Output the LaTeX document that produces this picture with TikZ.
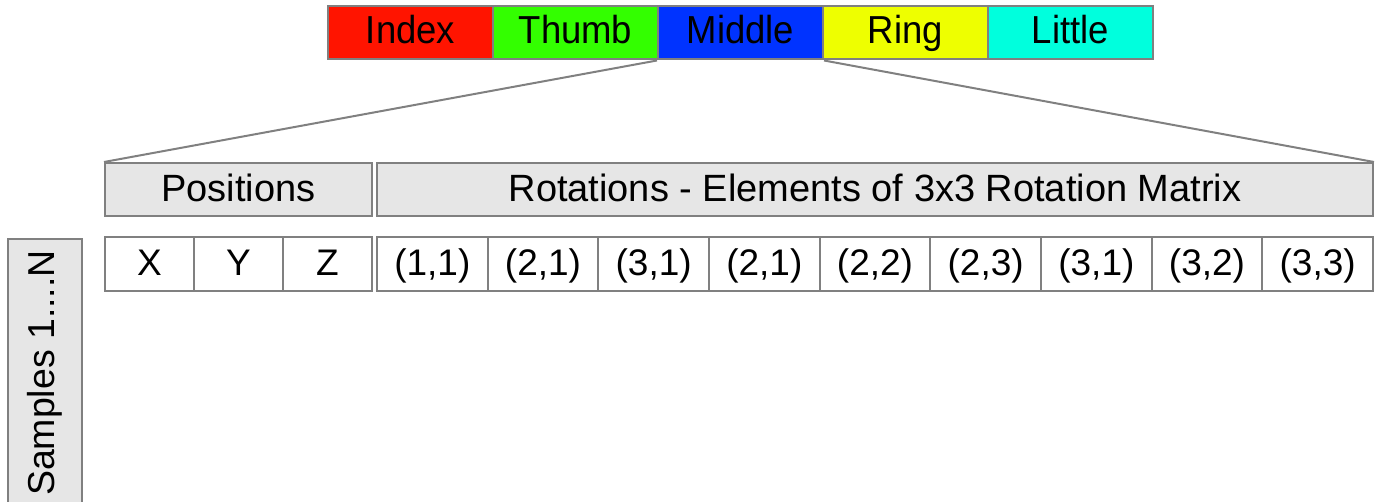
\documentclass[tikz,border=0pt]{standalone}
\usepackage{fontspec}
\setmainfont{Liberation Sans}
\definecolor{edge}{RGB}{128,128,128}
\definecolor{hdr}{RGB}{230,230,230}
\definecolor{cIndex}{RGB}{255,20,0}
\definecolor{cThumb}{RGB}{51,255,0}
\definecolor{cMiddle}{RGB}{0,51,255}
\definecolor{cRing}{RGB}{238,255,0}
\definecolor{cLittle}{RGB}{0,255,221}
\newcommand{\tallish}[1]{\scalebox{1}[1.07]{#1}}
\begin{document}
\begin{tikzpicture}[x=1pt,y=-1pt,
  box/.style={draw=edge,line width=2pt,inner sep=0pt,minimum height=53pt,
    text height=30pt,text depth=6pt,
    font=\fontsize{38}{42}\selectfont},
  cell/.style={box,minimum height=54pt,font=\fontsize{37}{40}\selectfont},
  finger/.style={box,minimum width=165pt,text height=29pt,text depth=7pt,
    font=\fontsize{36.5}{40}\selectfont},
  link/.style={draw=edge,line width=2pt}]
\useasboundingbox (0,0) rectangle (1379,502);

% finger bar
\foreach \name/\col [count=\i from 0] in {Index/cIndex,Thumb/cThumb,Middle/cMiddle,Ring/cRing,Little/cLittle}
  \node[finger,fill=\col] (f\name) at ({410.5+165*\i},33) {\tallish{\name}};

% header boxes
\node[box,fill=hdr,minimum width=267pt] (pos) at (238.5,189.5) {Positions};
\node[box,fill=hdr,minimum width=996pt] (rot) at (875,189.5) {Rotations - Elements of 3x3 Rotation Matrix};

% expansion lines from the middle finger
\draw[link] (fMiddle.south west) -- (pos.north west);
\draw[link] (fMiddle.south east) -- (rot.north east);

% position cells
\foreach \t [count=\i from 0] in {X,Y,Z}
  \node[cell,minimum width=89pt] (p\i) at ({149.5+89*\i},264) {\t};

% rotation cells
\foreach \t [count=\i from 0] in {{(1,1)},{(2,1)},{(3,1)},{(2,1)},{(2,2)},{(2,3)},{(3,1)},{(3,2)},{(3,3)}}
  \node[cell,minimum width=110.67pt] (r\i) at ({432.33+110.67*\i},264) {\t};

% samples axis
\node[box,fill=hdr,rotate=90,minimum width=268pt,minimum height=74pt,
  text height=27pt,text depth=8pt,font=\fontsize{37.5}{40}\selectfont] (samples) at (45,373) {Samples 1....N};
\end{tikzpicture}
\end{document}
